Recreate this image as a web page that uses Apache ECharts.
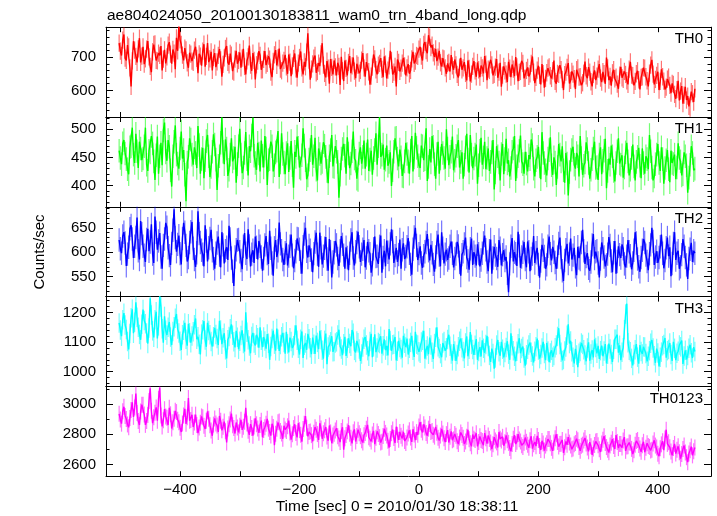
<!DOCTYPE html>
<html><head><meta charset="utf-8">
<script src="https://cdn.jsdelivr.net/npm/echarts@6/dist/echarts.min.js"></script>
<style>html,body{margin:0;padding:0;background:#fff}#c{width:717px;height:516px}</style>
</head><body><div id="c"></div>
<script>
const chartTitle = 'ae804024050_20100130183811_wam0_trn_4band_long.qdp';
const xTitle = 'Time [sec] 0 = 2010/01/30 18:38:11';
const yTitle = 'Counts/sec';
const bandNames = ['TH0', 'TH1', 'TH2', 'TH3', 'TH0123'];
const timeStart = -502, timeStep = 2;

const th0 = [
742,718,705,751,768,697,690,736,731,668,612,689,748,721,702,684,725,757,684,703,
731,679,695,724,748,701,672,655,716,738,740,690,689,712,705,733,660,694,722,681,
701,736,745,709,680,723,712,664,758,719,795,752,738,706,690,727,722,683,668,713,
709,688,684,721,731,696,652,710,703,674,718,739,671,702,742,685,695,716,660,699,
712,670,686,705,724,692,641,678,698,726,733,684,677,711,706,658,655,694,719,680,
690,714,668,697,725,672,648,689,701,735,676,659,712,690,633,677,688,718,705,662,
662,693,718,676,681,703,694,655,640,687,707,721,675,698,726,664,659,682,690,707,
671,650,708,685,643,674,696,711,665,638,682,699,717,668,648,686,671,715,772,691,
632,664,680,697,705,653,657,682,673,710,742,676,651,639,688,667,620,694,669,648,
690,671,645,683,672,616,701,659,628,690,666,645,684,703,652,674,699,658,637,680,
675,652,660,691,712,668,641,685,686,656,617,643,670,708,695,662,648,676,681,697,
663,640,702,679,636,661,674,719,690,648,655,672,612,693,684,657,667,682,698,674,
645,668,679,650,660,695,716,681,688,705,702,724,731,703,690,738,745,720,712,766,
760,729,736,713,701,725,688,700,719,683,672,697,695,668,650,681,684,657,706,674,
662,693,677,648,639,670,698,662,668,685,651,630,690,666,627,649,672,688,659,641,
684,662,640,675,668,651,703,679,631,664,660,692,677,645,648,670,694,638,655,683,
611,646,672,659,649,625,686,667,640,678,664,643,700,671,628,654,657,689,681,636,
637,660,669,642,650,681,702,655,622,639,661,674,645,618,679,650,608,636,653,667,
671,644,636,659,690,627,620,651,648,676,662,633,601,647,655,669,682,621,630,657,
649,635,604,662,668,640,641,616,623,652,687,644,637,670,655,626,612,648,660,631,
643,664,679,637,625,656,650,620,699,668,631,642,614,653,662,635,640,619,605,646,
671,638,633,657,648,629,618,664,686,646,644,615,627,650,659,632,603,639,641,668,
667,641,629,612,652,676,692,649,618,633,645,656,601,627,663,641,628,603,610,634,
640,615,592,621,618,588,575,602,629,570,598,613,560,586,611,571,583,552,547,596,
590,565,605];

const th1 = [
462,449,438,475,481,457,447,429,420,468,470,503,455,440,492,461,431,478,466,445,
448,470,503,437,426,462,459,488,475,443,410,454,487,421,452,476,436,498,512,459,
444,481,469,427,398,452,478,507,455,439,430,466,496,448,463,419,372,441,451,484,
482,455,437,468,458,431,506,472,421,447,467,413,445,479,490,452,415,433,460,491,
473,446,392,435,452,476,521,460,438,482,466,417,428,455,484,443,449,469,405,438,
470,501,455,422,432,458,495,447,418,470,461,489,520,453,440,428,476,457,425,480,
453,432,488,466,401,445,447,478,470,425,436,459,462,497,415,441,493,456,441,420,
458,475,424,449,479,436,396,460,451,487,467,432,430,454,502,471,445,411,418,446,
463,490,437,452,485,428,409,466,456,439,442,477,471,451,426,404,452,463,490,434,
433,470,460,442,378,419,448,465,474,453,421,486,457,431,439,461,496,448,444,412,
410,457,468,439,451,480,430,455,482,426,446,462,419,449,463,493,437,470,522,451,
455,473,428,446,471,435,442,459,399,427,460,484,485,448,434,464,450,417,416,443,
476,456,443,421,462,488,425,450,494,467,452,436,431,471,470,445,447,502,408,433,
465,441,488,469,438,412,456,478,421,448,474,458,449,430,500,466,436,451,460,487,
427,444,453,470,481,432,442,459,412,437,468,492,446,423,490,455,431,448,455,473,
403,436,462,485,437,450,478,429,449,466,426,442,459,481,393,423,470,452,441,409,
456,474,420,447,483,439,445,416,431,460,466,488,408,434,452,462,489,443,438,421,
460,439,425,454,447,482,472,430,416,445,451,469,434,411,495,458,440,427,418,448,
463,486,436,419,450,441,401,433,474,455,443,470,427,405,458,439,382,424,446,463,
469,437,430,458,452,416,488,449,419,435,441,477,465,440,412,428,447,466,478,431,
433,410,455,468,420,444,462,483,395,426,448,437,471,452,426,407,440,461,484,439,
437,454,414,432,459,476,443,418,428,449,473,434,409,442,451,467,435,413,466,440,
421,452,447,429,490,461,432,409,416,438,455,474,440,426,468,447,403,431,445,463,
429,406,462,440,438,455,411,432,475,449,443,418,420,459,452,436,387,414,437,470,
458,427,430];

const th2 = [
625,607,598,633,641,619,572,596,610,648,655,627,588,612,630,671,603,585,664,638,
612,594,580,626,648,602,621,657,596,578,673,641,605,623,639,590,566,614,627,660,
651,609,593,574,618,645,688,630,601,616,634,597,575,628,660,641,614,581,589,620,
642,662,608,585,570,599,684,638,620,604,596,571,655,623,581,609,628,646,603,587,
566,598,619,632,594,569,641,615,577,603,610,584,654,627,588,561,531,590,605,625,
626,601,583,565,612,639,598,586,647,613,571,596,604,578,632,610,585,623,612,590,
562,587,615,633,597,576,644,608,578,552,609,625,590,603,661,617,603,585,574,599,
618,573,592,612,636,594,567,583,601,628,627,606,580,556,611,637,650,602,589,614,
604,584,559,597,621,640,596,570,640,609,575,592,608,631,586,562,627,601,548,580,
599,623,615,587,572,603,633,616,594,566,610,589,563,598,625,641,588,573,601,620,
642,611,580,596,606,625,569,588,621,603,597,558,574,607,632,591,592,576,612,634,
558,589,603,571,624,600,585,617,647,622,578,593,609,580,595,626,566,605,618,586,
591,611,629,598,575,554,606,631,650,614,584,597,612,578,568,593,601,620,637,603,
583,615,599,575,560,590,620,636,594,571,641,608,577,596,605,584,588,612,622,598,
569,587,596,621,613,579,552,595,601,617,630,589,582,564,607,628,574,600,592,573,
616,597,571,584,598,619,634,605,580,561,603,626,556,588,611,594,587,570,625,608,
573,595,604,583,590,557,518,576,612,629,581,600,597,572,642,613,568,590,600,621,
585,569,622,601,561,587,596,633,578,599,609,575,548,582,615,604,591,566,574,612,
632,597,583,611,600,579,566,590,618,630,589,562,541,583,605,617,577,596,628,585,
594,609,570,553,611,588,585,620,646,603,576,591,598,567,562,580,615,637,587,601,
603,578,548,586,620,607,590,571,574,596,631,614,582,559,599,623,556,581,612,595,
588,616,607,576,569,592,625,601,593,565,578,604,641,619,586,570,560,589,604,627,
620,594,581,563,597,615,650,622,574,590,602,578,589,611,636,598,567,583,609,630,
592,610,551,577,618,641,584,598,603,566,570,595,627,612,589,574,545,587,606,619,
580,603,598];

const th3 = [
1165,1141,1120,1176,1198,1158,1143,1102,1075,1129,1182,1211,1130,1167,1235,1184,1150,1126,1108,1160,
1210,1173,1162,1131,1095,1148,1248,1192,1138,1116,1176,1203,1112,1155,1255,1219,1145,1098,1187,1140,
1124,1150,1168,1117,1090,1136,1152,1181,1195,1144,1131,1103,1073,1125,1140,1165,1110,1088,1162,1132,
1098,1121,1135,1159,1180,1110,1118,1093,1058,1127,1142,1171,1107,1084,1165,1139,1125,1102,1085,1118,
1148,1126,1112,1090,1172,1141,1093,1115,1130,1074,1045,1108,1119,1145,1160,1123,1101,1082,1138,1116,
1076,1103,1122,1140,1095,1068,1201,1133,1108,1087,1062,1119,1131,1097,1089,1125,1115,1081,1150,1106,
1083,1117,1104,1078,1127,1096,1040,1085,1112,1139,1093,1071,1146,1110,1070,1092,1118,1131,1099,1061,
1135,1094,1065,1115,1102,1080,1088,1124,1157,1106,1079,1058,1110,1136,1046,1089,1097,1074,1128,1111,
1081,1059,1115,1093,1060,1122,1099,1076,1138,1108,1072,1044,1106,1129,1025,1083,1090,1101,1120,1067,
1068,1097,1101,1124,1142,1085,1077,1056,1094,1118,1053,1079,1113,1095,1086,1141,1130,1072,1065,1104,
1098,1077,1036,1060,1083,1110,1117,1090,1071,1052,1102,1128,1049,1084,1126,1066,1080,1099,1095,1120,
1061,1088,1109,1073,1087,1055,1144,1105,1070,1091,1093,1117,1038,1069,1104,1082,1075,1047,1121,1096,
1083,1112,1058,1079,1099,1121,1072,1050,1135,1093,1090,1067,1062,1100,1106,1138,1044,1074,1087,1059,
1115,1090,1066,1043,1095,1116,1150,1084,1078,1061,1049,1097,1102,1071,1081,1109,1125,1086,1060,1037,
1093,1070,1036,1058,1084,1103,1112,1081,1068,1045,1097,1119,1052,1076,1134,1092,1075,1057,1089,1110,
1040,1068,1083,1051,1106,1079,1064,1092,1121,1085,1055,1033,1078,1061,1010,1046,1090,1107,1067,1054,
1101,1076,1048,1065,1082,1103,1059,1040,1130,1088,1071,1052,1035,1069,1094,1113,1062,1078,1085,1046,
1020,1057,1076,1090,1098,1066,1053,1031,1069,1084,1112,1073,1044,1058,1080,1101,1061,1039,1097,1070,
1032,1063,1072,1049,1055,1081,1090,1119,1147,1092,1066,1038,1041,1070,1083,1123,1160,1095,1104,1067,
1049,1028,1077,1056,1015,1062,1068,1097,1092,1074,1056,1035,1080,1099,1037,1060,1073,1048,1109,1082,
1062,1087,1043,1071,1088,1052,1070,1093,1028,1059,1095,1077,1058,1033,1076,1110,1110,1125,1064,1089,
1039,1066,1081,1142,1195,1230,1098,1072,1067,1045,1021,1058,1074,1093,1049,1027,1090,1068,1060,1084,
1083,1061,1035,1052,1071,1096,1107,1080,1054,1030,1078,1063,1018,1049,1066,1088,1092,1114,1047,1071,
1075,1097,1058,1036,1101,1079,1039,1062,1069,1090,1084,1105,1026,1053,1072,1041,1055,1079,1091,1064,
1046,1083,1068];

const th0123 = [
2935,2898,2870,2952,2982,2921,2901,2865,2846,2907,2960,3012,2915,2978,3070,2940,2888,2861,2950,2996,
2995,2930,2862,2887,2928,3020,3105,2956,2874,2912,2943,2978,2890,3035,3110,2925,2852,2893,2966,2918,
2910,2861,2975,2932,2838,2880,2902,2955,2947,2896,2880,2843,2815,2871,2925,2968,2869,2912,3040,2889,
2895,2929,2848,2877,2930,2862,2807,2845,2876,2918,2912,2856,2835,2890,2952,2903,2860,2825,2790,2864,
2905,2872,2858,2815,2921,2889,2826,2850,2884,2820,2745,2838,2866,2897,2937,2860,2841,2805,2878,2845,
2812,2857,2896,2829,2850,2883,2975,2871,2823,2796,2867,2842,2790,2851,2905,2866,2838,2810,2861,2890,
2780,2828,2846,2869,2902,2837,2815,2791,2869,2848,2728,2803,2837,2879,2884,2822,2805,2770,2856,2831,
2822,2853,2890,2812,2765,2800,2841,2866,2808,2779,2873,2827,2796,2751,2834,2869,2920,2843,2786,2815,
2819,2794,2752,2810,2847,2829,2801,2763,2873,2838,2770,2806,2826,2848,2785,2757,2858,2812,2740,2791,
2803,2825,2840,2787,2771,2748,2822,2846,2698,2774,2795,2819,2861,2803,2776,2739,2814,2832,2752,2788,
2830,2806,2787,2761,2745,2793,2809,2837,2862,2780,2770,2752,2798,2822,2734,2776,2819,2801,2781,2745,
2750,2788,2836,2809,2792,2757,2711,2769,2807,2831,2775,2742,2850,2796,2763,2815,2790,2772,2816,2755,
2742,2779,2805,2826,2778,2749,2833,2798,2761,2814,2796,2852,2880,2829,2812,2866,2845,2808,2790,2837,
2868,2815,2822,2797,2784,2849,2810,2776,2758,2791,2836,2805,2773,2748,2801,2827,2745,2783,2819,2760,
2766,2801,2790,2753,2735,2778,2812,2795,2777,2736,2752,2784,2830,2767,2741,2720,2798,2770,2762,2806,
2720,2749,2786,2762,2755,2728,2808,2774,2738,2791,2769,2745,2702,2733,2781,2758,2746,2712,2815,2770,
2759,2783,2724,2747,2792,2761,2743,2709,2688,2736,2770,2794,2735,2751,2801,2766,2752,2727,2716,2744,
2778,2750,2731,2711,2760,2787,2705,2733,2748,2721,2789,2762,2722,2696,2756,2738,2692,2725,2740,2768,
2768,2741,2710,2690,2745,2773,2800,2749,2718,2735,2737,2762,2676,2714,2752,2730,2781,2745,2726,2701,
2705,2733,2742,2770,2760,2716,2690,2724,2731,2758,2775,2739,2712,2687,2748,2721,2663,2706,2729,2752,
2756,2727,2701,2683,2738,2764,2787,2742,2715,2698,2680,2726,2744,2767,2722,2702,2795,2749,2708,2735,
2735,2712,2758,2781,2690,2718,2720,2745,2744,2703,2668,2694,2731,2756,2762,2728,2705,2684,2727,2750,
2681,2710,2740,2722,2716,2693,2698,2739,2760,2725,2712,2671,2655,2707,2733,2754,2694,2772,2830,2736,
2747,2714,2685,2660,2709,2736,2672,2697,2720,2681,2638,2669,2702,2725,2679,2648,2615,2673,2694,2718,
2660,2687,2712];

const bandErrors = [26, 21, 24, 33, 53];
const xTickValues = [-500, -400, -300, -200, -100, 0, 100, 200, 300, 400];
const xLabelValues = [-400, -200, 0, 200, 400];
const yLabelValues = [[600, 700], [400, 450, 500], [550, 600, 650], [1000, 1100, 1200], [2600, 2800, 3000]];
const yMinorStep = [20, 10, 10, 20, 100];
const yRanges = [[520, 790], [362, 522], [509, 693], [950, 1254], [2522, 3117]];
const xRange = [-524, 489];

const bandValues = [th0, th1, th2, th3, th0123];
const bandColors = ['#ff0000', '#00ff00', '#0000ff', '#00ffff', '#ff00ff'];
const errColors = ['rgba(255,0,0,0.55)', 'rgba(0,255,0,0.55)', 'rgba(0,0,255,0.55)', 'rgba(0,255,255,0.55)', 'rgba(255,0,255,0.55)'];

const FONT = '"Liberation Sans", Arial, sans-serif';
const INK = '#000';
const gridLeft = 106, gridWidth = 605, gridTop = 27.2, panelH = 89.8;

function fmtX(v) { return v < 0 ? '\u2212' + (-v) : String(v); }
function fmtY(v) { return String(v); }

const grid = [], xAxis = [], yAxis = [], series = [], graphic = [];
for (let k = 0; k < 5; k++) {
  const top = gridTop + k * panelH;
  grid.push({ left: gridLeft, width: gridWidth, top: top, height: panelH });
  const [ymin, ymax] = yRanges[k];
  const minors = [];
  const st = yMinorStep[k];
  for (let v = Math.ceil(ymin / st) * st; v <= ymax; v += st) {
    if (yLabelValues[k].indexOf(v) < 0) minors.push(v);
  }
  ['bottom', 'top'].forEach(pos => {
    xAxis.push({
      gridIndex: k, type: 'value', position: pos, min: xRange[0], max: xRange[1],
      axisLine: { show: true, onZero: false, lineStyle: { color: INK, width: 1 } },
      axisTick: { show: true, inside: true, length: 5, customValues: xTickValues, lineStyle: { color: INK } },
      axisLabel: { show: pos === 'bottom' && k === 4, customValues: xLabelValues, formatter: fmtX,
        fontSize: 15, fontFamily: FONT, color: INK, margin: 6 },
      splitLine: { show: false }
    });
  });
  ['left', 'right'].forEach(pos => {
    yAxis.push({
      gridIndex: k, type: 'value', position: pos, min: ymin, max: ymax,
      axisLine: { show: true, onZero: false, lineStyle: { color: INK, width: 1 } },
      axisTick: { show: true, inside: true, length: 7, customValues: yLabelValues[k], lineStyle: { color: INK } },
      axisLabel: { show: pos === 'left', customValues: yLabelValues[k], formatter: fmtY,
        fontSize: 15, fontFamily: FONT, color: INK, margin: 10 },
      splitLine: { show: false }
    });
    yAxis.push({
      gridIndex: k, type: 'value', position: pos, min: ymin, max: ymax,
      axisLine: { show: false, onZero: false },
      axisTick: { show: true, inside: true, length: 3.5, customValues: minors, lineStyle: { color: INK } },
      axisLabel: { show: false },
      splitLine: { show: false }
    });
  });
  const vals = bandValues[k];
  const pts = vals.map((v, i) => [timeStart + i * timeStep, v]);
  const err = bandErrors[k];
  const ec = errColors[k];
  series.push({
    type: 'custom', xAxisIndex: 2 * k, yAxisIndex: 4 * k, silent: true, z: 2,
    data: vals.map((v, i) => [timeStart + i * timeStep, v, err]),
    encode: { x: 0, y: 1 },
    renderItem: (params, api) => {
      const t = api.value(0), v = api.value(1), e = api.value(2);
      const p1 = api.coord([t, v + e]);
      const p2 = api.coord([t, v - e]);
      const cs = params.coordSys;
      const y1 = Math.max(cs.y, p1[1]);
      const y2 = Math.min(cs.y + cs.height, p2[1]);
      if (y2 <= y1) return null;
      return { type: 'line', shape: { x1: p1[0], y1: y1, x2: p1[0], y2: y2 },
        style: { stroke: ec, lineWidth: 1.2 } };
    }
  });
  series.push({
    type: 'line', xAxisIndex: 2 * k, yAxisIndex: 4 * k, data: pts, showSymbol: false, symbol: 'none',
    clip: true, silent: true, z: 3,
    lineStyle: { color: bandColors[k], width: 1.4 }, itemStyle: { color: bandColors[k] }
  });
  graphic.push({
    type: 'text', x: 703, y: top + 12,
    style: { text: bandNames[k], fill: INK, font: '15px ' + FONT, align: 'right', verticalAlign: 'middle',
      textAlign: 'right', textVerticalAlign: 'middle' }
  });
}
graphic.push({
  type: 'text', x: 107, y: 15.3,
  style: { text: chartTitle, fill: INK, font: '15.5px ' + FONT, align: 'left', verticalAlign: 'middle',
    textAlign: 'left', textVerticalAlign: 'middle' }
});
graphic.push({
  type: 'text', x: 397, y: 507,
  style: { text: xTitle, fill: INK, font: '15.5px ' + FONT, align: 'center', verticalAlign: 'middle',
    textAlign: 'center', textVerticalAlign: 'middle' }
});
graphic.push({
  type: 'text', x: 40, y: 252, rotation: Math.PI / 2,
  style: { text: yTitle, fill: INK, font: '15px ' + FONT, align: 'center', verticalAlign: 'middle',
    textAlign: 'center', textVerticalAlign: 'middle' }
});

const chart = echarts.init(document.getElementById('c'), null, { renderer: 'canvas' });
chart.setOption({
  animation: false, backgroundColor: '#fff',
  grid, xAxis, yAxis, series, graphic
});
</script></body></html>
